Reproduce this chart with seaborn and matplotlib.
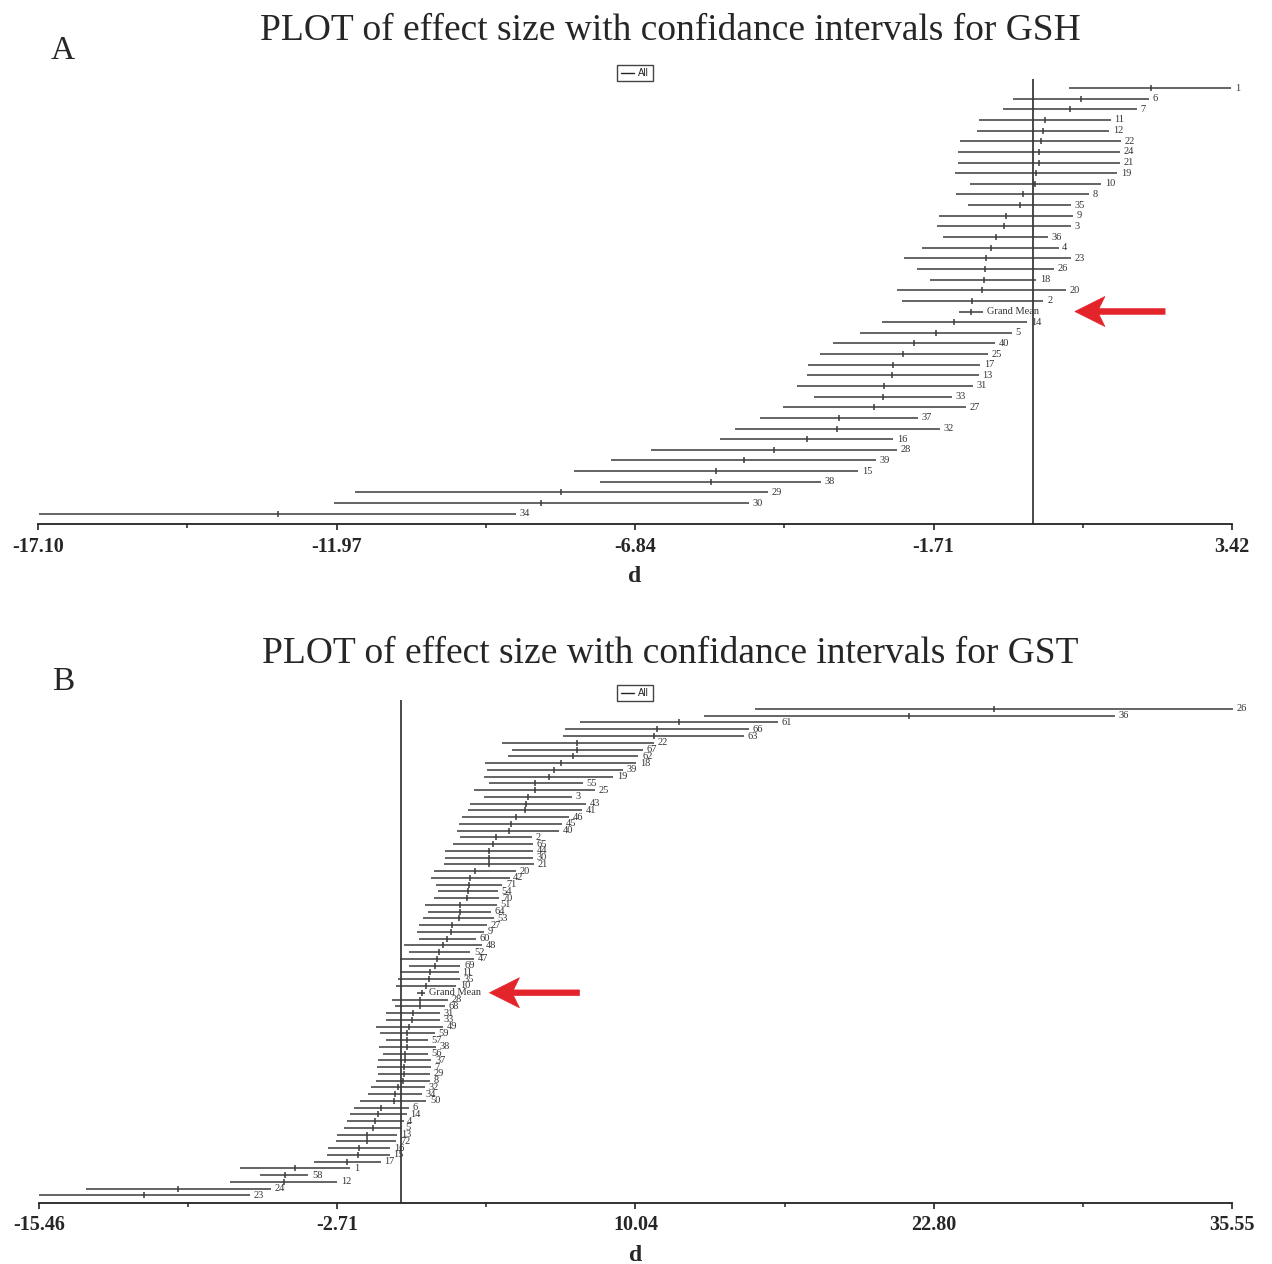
import numpy as np
import pandas as pd
import matplotlib
matplotlib.use("Agg")
import matplotlib.pyplot as plt
from matplotlib.lines import Line2D
from matplotlib.patches import Polygon
from matplotlib.transforms import IdentityTransform
import seaborn as sns

# ---------------- GSH: effect size d with confidence limits ----------------
gsh_study = ["1", "6", "7", "11", "12", "22", "24", "21", "19", "10", "8", "35", "9", "3",
             "36", "4", "23", "26", "18", "20", "2", "Grand Mean", "14", "5", "40", "25",
             "17", "13", "31", "33", "27", "37", "32", "16", "28", "39", "15", "38", "29",
             "30", "34"]
gsh_d = [2.02, 0.82, 0.64, 0.21, 0.18, 0.14, 0.11, 0.11, 0.06, 0.04, -0.18, -0.23, -0.46,
         -0.50, -0.64, -0.73, -0.80, -0.82, -0.85, -0.88, -1.04, -1.07, -1.35, -1.67, -2.05,
         -2.23, -2.40, -2.43, -2.56, -2.58, -2.74, -3.34, -3.36, -3.89, -4.45, -4.97, -5.44,
         -5.54, -8.12, -8.45, -12.98]
gsh_lower = [0.62, -0.35, -0.52, -0.93, -0.96, -1.25, -1.29, -1.29, -1.34, -1.09, -1.32,
             -1.11, -1.61, -1.65, -1.55, -1.90, -2.22, -2.00, -1.77, -2.34, -2.25, -1.28,
             -2.59, -2.98, -3.43, -3.66, -3.86, -3.89, -4.06, -3.76, -4.30, -4.69, -5.12,
             -5.38, -6.56, -7.26, -7.88, -7.44, -11.66, -12.01, -17.09]
gsh_upper = [3.41, 1.99, 1.79, 1.34, 1.31, 1.52, 1.50, 1.49, 1.45, 1.17, 0.96, 0.65, 0.69,
             0.65, 0.26, 0.44, 0.65, 0.36, 0.06, 0.57, 0.18, -0.86, -0.10, -0.36, -0.65,
             -0.78, -0.91, -0.93, -1.03, -1.40, -1.16, -1.98, -1.60, -2.40, -2.34, -2.70,
             -3.00, -3.64, -4.55, -4.88, -8.88]
gsh_ticks = [-17.10, -11.97, -6.84, -1.71, 3.42]

# ---------------- GST: effect size d with confidence limits ----------------
gst_study = ["26", "36", "61", "66", "63", "22", "67", "62", "18", "39", "19", "55", "25",
             "3", "43", "41", "46", "45", "40", "2", "65", "44", "30", "21", "20", "42",
             "71", "54", "70", "51", "64", "53", "27", "9", "60", "48", "52", "47", "69",
             "11", "35", "10", "Grand Mean", "28", "68", "31", "33", "49", "59", "57", "38",
             "56", "37", "7", "29", "8", "32", "34", "50", "6", "14", "4", "5", "13", "72",
             "16", "15", "17", "1", "58", "12", "24", "23"]
gst_d = [25.38, 21.74, 11.92, 10.98, 10.84, 7.56, 7.56, 7.36, 6.84, 6.58, 6.35, 5.74, 5.74,
         5.46, 5.37, 5.31, 4.93, 4.74, 4.62, 4.06, 3.96, 3.77, 3.77, 3.77, 3.18, 2.96, 2.92,
         2.87, 2.83, 2.56, 2.54, 2.48, 2.22, 2.15, 2.00, 1.82, 1.65, 1.55, 1.47, 1.24, 1.21,
         1.08, 0.90, 0.84, 0.81, 0.54, 0.50, 0.38, 0.27, 0.27, 0.26, 0.18, 0.17, 0.14, 0.13,
         0.10, -0.11, -0.23, -0.30, -0.82, -0.95, -1.08, -1.20, -1.44, -1.44, -1.76, -1.81,
         -2.29, -4.50, -4.96, -4.99, -9.50, -10.97]
gst_lower = [15.15, 12.96, 7.69, 7.04, 6.94, 4.32, 4.76, 4.60, 3.60, 3.70, 3.55, 3.76, 3.15,
             3.55, 2.95, 2.89, 2.64, 2.51, 2.42, 2.52, 2.26, 1.91, 1.89, 1.85, 1.45, 1.30,
             1.50, 1.60, 1.45, 1.03, 1.18, 0.98, 0.78, 0.71, 0.77, 0.16, 0.34, -0.03, 0.35,
             -0.04, -0.10, -0.20, 0.71, -0.37, -0.23, -0.64, -0.61, -1.04, -0.90, -0.64,
             -0.93, -0.76, -0.97, -1.01, -0.97, -1.04, -1.27, -1.38, -1.72, -2.01, -2.18,
             -2.29, -2.42, -2.71, -2.75, -3.09, -3.15, -3.71, -6.85, -6.01, -7.28, -13.46,
             -15.47]
gst_upper = [35.61, 30.55, 16.15, 14.89, 14.70, 10.83, 10.38, 10.17, 10.07, 9.50, 9.10, 7.79,
             8.32, 7.32, 7.94, 7.75, 7.22, 6.91, 6.79, 5.60, 5.65, 5.65, 5.65, 5.70, 4.94,
             4.66, 4.35, 4.15, 4.21, 4.12, 3.85, 3.99, 3.69, 3.58, 3.21, 3.50, 2.98, 3.15,
             2.56, 2.48, 2.52, 2.38, 1.06, 2.04, 1.88, 1.70, 1.67, 1.81, 1.47, 1.18, 1.50,
             1.18, 1.32, 1.28, 1.25, 1.24, 1.03, 0.93, 1.10, 0.35, 0.27, 0.13, 0.03, -0.14,
             -0.18, -0.44, -0.47, -0.84, -2.15, -3.94, -2.71, -5.56, -6.45]
gst_ticks = [-15.46, -2.71, 10.04, 22.80, 35.55]

W, H = 1272, 1264
sns.set_theme(style="white")
plt.rcParams["font.family"] = ["Liberation Serif", "DejaVu Serif"]

LINE = "#3a3a3a"
RED = "#e3242b"

fig = plt.figure(figsize=(W / 100, H / 100), dpi=100)
fig.patch.set_facecolor("white")


def px_axes(left, top, right, bottom):
    return fig.add_axes([left / W, 1 - bottom / H, (right - left) / W, (bottom - top) / H])


def draw_panel(ax, study, d, lo, hi, ticks, ylim, mark_size, title, letter,
               title_base, letter_base, legend_y):
    df = pd.DataFrame({"study": study, "d": d, "lo": lo, "hi": hi})
    df["row"] = np.arange(len(df))

    ax.hlines(df["row"], df["lo"], df["hi"], color=LINE, lw=1.1, clip_on=False, zorder=2)
    sns.scatterplot(data=df, x="d", y="row", marker="|", s=mark_size ** 2,
                    color=LINE, edgecolor=LINE, linewidth=1.1, ax=ax, legend=False,
                    clip_on=False, zorder=3)
    for _, r in df.iterrows():
        ax.annotate(r["study"], (r["hi"], r["row"]), xytext=(2.6, 0),
                    textcoords="offset points", ha="left", va="center",
                    fontsize=7.5, color="#333333", annotation_clip=False)

    ax.axvline(0, color="#2b2b2b", lw=1.2, zorder=1)

    ax.set_xlim(ticks[0], ticks[-1])
    ax.set_ylim(*ylim)
    ax.set_yticks([])
    ax.set_xticks(ticks)
    ax.set_xticklabels([f"{t:.2f}" for t in ticks], fontweight="bold", fontsize=14.5)
    ax.set_xticks([(a + b) / 2 for a, b in zip(ticks[:-1], ticks[1:])], minor=True)
    ax.tick_params(axis="x", which="major", length=4, width=1.2, color="#222222",
                   pad=5, bottom=True)
    ax.tick_params(axis="x", which="minor", length=3, width=1.1, color="#222222",
                   bottom=True)
    ax.set_xlabel("d", fontsize=17, fontweight="bold", labelpad=7)
    ax.set_ylabel("")
    for s in ("top", "left", "right"):
        ax.spines[s].set_visible(False)
    ax.spines["bottom"].set_color("#222222")
    ax.spines["bottom"].set_linewidth(1.3)

    leg = ax.legend(handles=[Line2D([], [], color="#222222", lw=1.0)], labels=["All"],
                    loc="center", bbox_to_anchor=(635 / W, 1 - legend_y / H),
                    bbox_transform=fig.transFigure, frameon=True, fancybox=False,
                    framealpha=1, edgecolor="#444444", handlelength=1.4,
                    handletextpad=0.4, borderpad=0.35, borderaxespad=0,
                    prop={"family": "Liberation Sans", "size": 7})
    leg.get_frame().set_linewidth(1.0)

    fig.text(670 / W, 1 - title_base / H, title, ha="center", va="baseline", fontsize=27)
    fig.text(63 / W, 1 - letter_base / H, letter, ha="center", va="baseline", fontsize=24)
    return df


def red_arrow(ax, x_tip, x_tail, y):
    tip = ax.transData.transform((x_tip, y))
    tail = ax.transData.transform((x_tail, y))
    L = tail[0] - tip[0]
    shape = np.array([[0, 0], [30, 15], [24, 2.8], [L, 2.8], [L, -2.8],
                      [24, -2.8], [30, -15]])
    verts = shape + tip
    fig.add_artist(Polygon(verts, closed=True, facecolor=RED, edgecolor=RED, lw=0.5,
                           transform=IdentityTransform()))


axA = px_axes(38, 79, 1232, 524)
draw_panel(axA, gsh_study, gsh_d, gsh_lower, gsh_upper, gsh_ticks, (40.97, -0.85), 4.5,
           "PLOT of effect size with confidance intervals for GSH", "A", 40, 59, 73)

axB = px_axes(39, 700, 1232, 1203)
draw_panel(axB, gst_study, gst_d, gst_lower, gst_upper, gst_ticks, (73.12, -1.33), 4.0,
           "PLOT of effect size with confidance intervals for GST", "B", 663, 690, 693)

red_arrow(axA, 0.72, 2.27, gsh_study.index("Grand Mean"))
red_arrow(axB, 3.80, 7.65, gst_study.index("Grand Mean"))

fig.savefig("out.png", dpi=100, facecolor="white")
